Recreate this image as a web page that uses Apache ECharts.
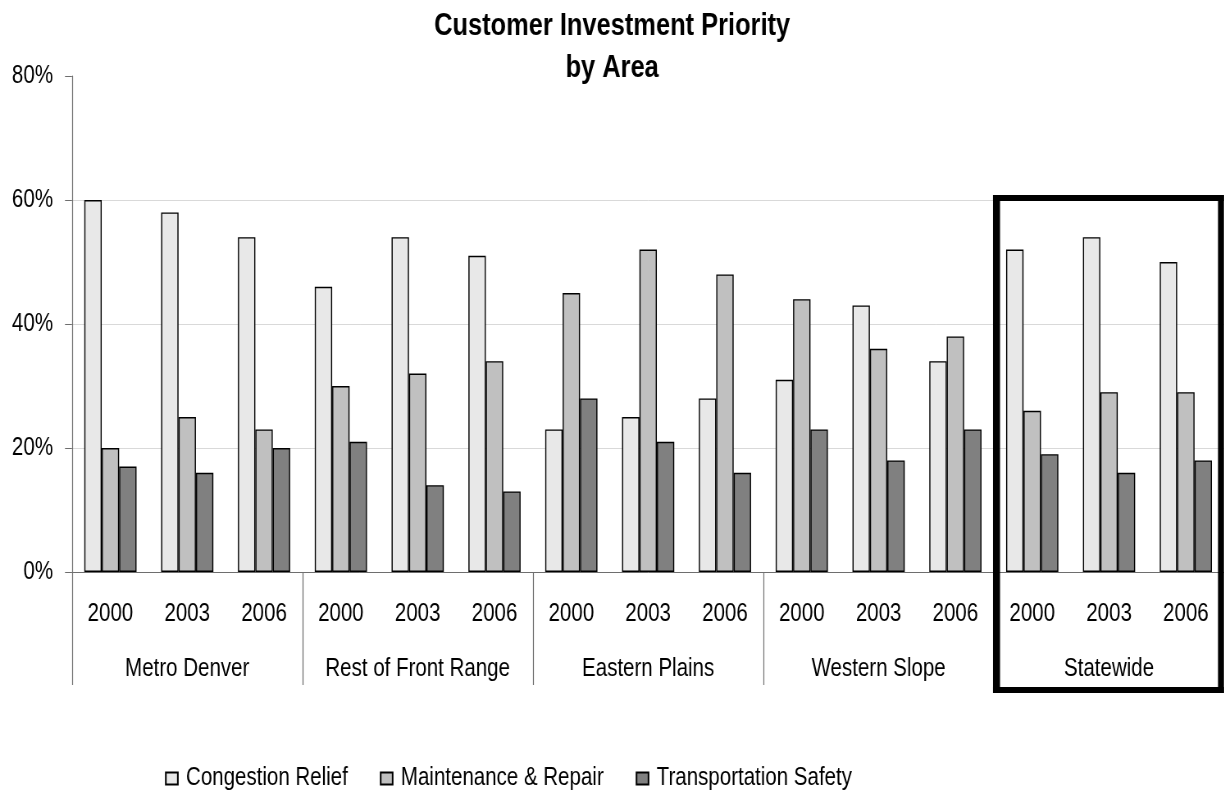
<!DOCTYPE html>
<html>
<head>
<meta charset="utf-8">
<script src="https://cdn.jsdelivr.net/npm/echarts@6/dist/echarts.min.js"></script>
<style>
  html, body { margin: 0; padding: 0; background: #fff; overflow: hidden; width: 1224px; height: 791px; }
  /* The chart is laid out wide and squeezed horizontally so that the
     regular sans face reads as a narrow (condensed) face. */
  #chart { width: 1493px; height: 791px; transform: scaleX(0.82); transform-origin: 0 0; }
</style>
</head>
<body>
<div id="chart"></div>
<script>
// Survey areas and survey years
const areas = ['Metro Denver', 'Rest of Front Range', 'Eastern Plains', 'Western Slope', 'Statewide'];
const years = ['2000', '2003', '2006'];

// Share of respondents (%) naming each priority, area by area, year by year
const congestionRelief     = [60, 58, 54,  46, 54, 51,  23, 25, 28,  31, 43, 34,  52, 54, 50];
const maintenanceRepair    = [20, 25, 23,  30, 32, 34,  45, 52, 48,  44, 36, 38,  26, 29, 29];
const transportationSafety = [17, 16, 20,  21, 14, 13,  28, 21, 16,  23, 18, 23,  19, 16, 18];

const seriesNames = ['Congestion Relief', 'Maintenance & Repair', 'Transportation Safety'];
const yTicks = [0, 20, 40, 60, 80];

// horizontal squeeze applied to the chart container
const S = 0.82;
const hx = v => v / S;

const FONT = "'Liberation Sans', Arial, sans-serif";
const yearCategories = [];
areas.forEach(() => years.forEach(y => yearCategories.push(y)));

const chart = echarts.init(document.getElementById('chart'), null, { renderer: 'canvas' });

function barSeries(name, data, fill) {
  return {
    name: name,
    type: 'bar',
    data: data,
    xAxisIndex: 0,
    barGap: '0%',
    barCategoryGap: '32%',
    itemStyle: { color: fill, borderColor: '#000', borderWidth: 1.4 },
    emphasis: { disabled: true }
  };
}

// thick frame around the Statewide block
const frame = [
  { x: 993, y: 195, w: 231, h: 6 },
  { x: 993, y: 687, w: 231, h: 6 },
  { x: 993, y: 195, w: 7, h: 498 },
  { x: 1218, y: 195, w: 6, h: 498 }
].map(r => ({
  type: 'rect',
  z: 100,
  shape: { x: hx(r.x), y: r.y, width: hx(r.w), height: r.h },
  style: { fill: '#000' }
}));

chart.setOption({
  animation: false,
  backgroundColor: '#fff',
  title: {
    text: 'Customer Investment Priority\nby Area',
    left: 'center',
    top: 5,
    padding: [0, 5, 5, 5],
    textStyle: { fontFamily: FONT, fontWeight: 'bold', fontSize: 31, lineHeight: 42, color: '#000' }
  },
  grid: { left: hx(72), top: 76, width: hx(1154), height: 496, containLabel: false },
  legend: {
    data: seriesNames,
    left: hx(165),
    top: 766,
    padding: 0,
    icon: 'rect',
    itemWidth: hx(12),
    itemHeight: 12,
    itemGap: hx(32),
    textStyle: { fontFamily: FONT, fontSize: 25, color: '#000', padding: [0, 0, 0, 5] }
  },
  xAxis: [
    {
      type: 'category',
      data: yearCategories,
      position: 'bottom',
      axisLine: { show: true, lineStyle: { color: '#6e6e6e', width: 1 } },
      axisTick: {
        show: true,
        interval: idx => idx % years.length === 0,
        length: 113,
        lineStyle: { color: '#6e6e6e', width: 1.2 }
      },
      axisLabel: { interval: 0, margin: 30, fontFamily: FONT, fontSize: 25, color: '#000' },
      splitLine: { show: false }
    },
    {
      type: 'category',
      data: areas,
      position: 'bottom',
      axisLine: { show: false },
      axisTick: { show: false },
      axisLabel: { interval: 0, margin: 85, fontFamily: FONT, fontSize: 25, color: '#000' },
      splitLine: { show: false }
    }
  ],
  yAxis: {
    type: 'value',
    min: yTicks[0],
    max: yTicks[yTicks.length - 1],
    interval: yTicks[1] - yTicks[0],
    axisLine: { show: true, lineStyle: { color: '#6e6e6e', width: 1.2 } },
    axisTick: { show: true, length: hx(7), lineStyle: { color: '#6e6e6e' } },
    axisLabel: { formatter: '{value}%', margin: hx(19), fontFamily: FONT, fontSize: 25, color: '#000' },
    splitLine: { show: true, showMaxLine: false, lineStyle: { color: '#d9d9d9', width: 1 } }
  },
  series: [
    barSeries(seriesNames[0], congestionRelief, '#e8e8e8'),
    barSeries(seriesNames[1], maintenanceRepair, '#c0c0c0'),
    barSeries(seriesNames[2], transportationSafety, '#808080')
  ],
  graphic: frame
});
</script>
</body>
</html>
